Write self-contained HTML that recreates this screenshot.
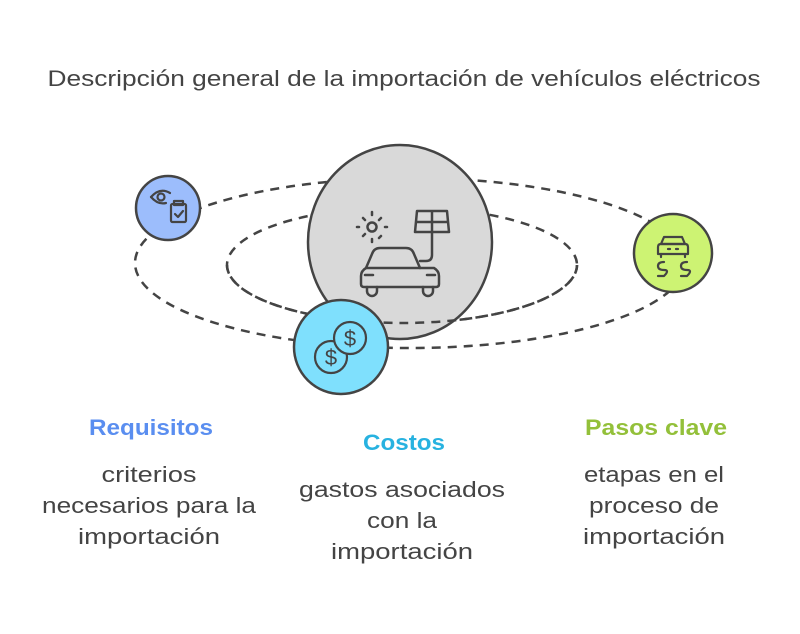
<!DOCTYPE html>
<html><head><meta charset="utf-8"><style>
html,body{margin:0;padding:0;background:#fff;}
svg{display:block;}
text{font-family:"Liberation Sans",sans-serif;}
</style></head><body>
<svg width="800" height="634" viewBox="0 0 800 634">
<text x="404" y="86" text-anchor="middle" font-size="22" fill="#444" textLength="713" lengthAdjust="spacingAndGlyphs">Descripción general de la importación de vehículos eléctricos</text>

<g fill="none" stroke="#444" stroke-width="2.5" stroke-dasharray="9 7">
<ellipse cx="410" cy="263" rx="275" ry="85"/>
<ellipse cx="402" cy="265" rx="175" ry="58"/>
</g>
<ellipse cx="400" cy="242" rx="92" ry="97" fill="#d9d9d9" stroke="#444" stroke-width="2.5"/>
<path d="M227 265 A175 58 0 0 0 577 265" fill="none" stroke="#444" stroke-width="2.5" stroke-dasharray="9 7"/>

<!-- car icon -->
<g fill="none" stroke="#444" stroke-width="2.5" stroke-linecap="round" stroke-linejoin="round">
<circle cx="372" cy="227" r="4.5"/>
<path d="M372 212v3M372 239v3M359 227h-2M385 227h2M363 218l2 2M381 218l-2 2M363 236l2-2M381 236l-2 2"/>
<path d="M417 211h30l2 21h-34z M432 211v21 M416 222h32"/>
<path d="M432 232v23q0 6-6 6h-6"/>
<path d="M380 248h26q6 0 8 6l6 14 M380 248q-6 0-8 6l-6 14"/>
<path d="M366 268q-5 3-5 8v8q0 3 3 3h72q3 0 3-3v-8q0-5-5-8z"/>
<path d="M365 275h8M427 275h8"/>
<path d="M367 287v4a5 5 0 0 0 10 0v-4M423 287v4a5 5 0 0 0 10 0v-4"/>
</g>

<!-- blue -->
<circle cx="168" cy="208" r="32" fill="#9cbdfc" stroke="#444" stroke-width="2.5"/>
<g fill="none" stroke="#444" stroke-width="2.2" stroke-linecap="round" stroke-linejoin="round">
<path d="M151 197q9-10 19-4"/>
<path d="M151 197q7 8 15 6"/>
<circle cx="161" cy="197" r="3.5"/>
<rect x="171" y="204" width="15" height="18" rx="1.5"/>
<rect x="174" y="201" width="9" height="4"/>
<path d="M175 214l3 3 5-6"/>
</g>

<!-- green -->
<circle cx="673" cy="253" r="39" fill="#cdf373" stroke="#444" stroke-width="2.5"/>
<g fill="none" stroke="#444" stroke-width="2.2" stroke-linecap="round" stroke-linejoin="round">
<path d="M664 237h18l3 7h-24z"/>
<path d="M661 244h24q3 0 3 3v7h-30v-7q0-3 3-3z"/>
<path d="M661 254v3M685 254v3M668 249h2M676 249h2"/>
<path d="M664 262q-6 0-6 4t6 4t0 6h-6M687 262q-6 0-6 4t6 4t0 6h-6"/>
</g>

<!-- cyan -->
<circle cx="341" cy="347" r="47" fill="#7fe0fd" stroke="#444" stroke-width="2.5"/>
<g stroke="#444" stroke-width="2.2">
<circle cx="331" cy="357" r="16" fill="#7fe0fd"/>
<circle cx="350" cy="338" r="16" fill="#7fe0fd"/>
</g>
<text x="350" y="346" text-anchor="middle" font-size="22" fill="#444">$</text>
<text x="331" y="365" text-anchor="middle" font-size="22" fill="#444">$</text>

<g text-anchor="middle">
<text x="151" y="435" font-size="22" font-weight="bold" fill="#5a8ef0" textLength="124" lengthAdjust="spacingAndGlyphs">Requisitos</text>
<text x="404" y="450" font-size="22" font-weight="bold" fill="#27b2e0" textLength="82" lengthAdjust="spacingAndGlyphs">Costos</text>
<text x="656" y="435" font-size="22" font-weight="bold" fill="#93c03a" textLength="142" lengthAdjust="spacingAndGlyphs">Pasos clave</text>
<g font-size="22" fill="#444">
<text x="149" y="482" textLength="95" lengthAdjust="spacingAndGlyphs">criterios</text>
<text x="149" y="513" textLength="214" lengthAdjust="spacingAndGlyphs">necesarios para la</text>
<text x="149" y="544" textLength="142" lengthAdjust="spacingAndGlyphs">importación</text>
<text x="402" y="497" textLength="206" lengthAdjust="spacingAndGlyphs">gastos asociados</text>
<text x="402" y="528" textLength="70" lengthAdjust="spacingAndGlyphs">con la</text>
<text x="402" y="559" textLength="142" lengthAdjust="spacingAndGlyphs">importación</text>
<text x="654" y="482" textLength="140" lengthAdjust="spacingAndGlyphs">etapas en el</text>
<text x="654" y="513" textLength="130" lengthAdjust="spacingAndGlyphs">proceso de</text>
<text x="654" y="544" textLength="142" lengthAdjust="spacingAndGlyphs">importación</text>
</g>
</g>
</svg>
</body></html>
